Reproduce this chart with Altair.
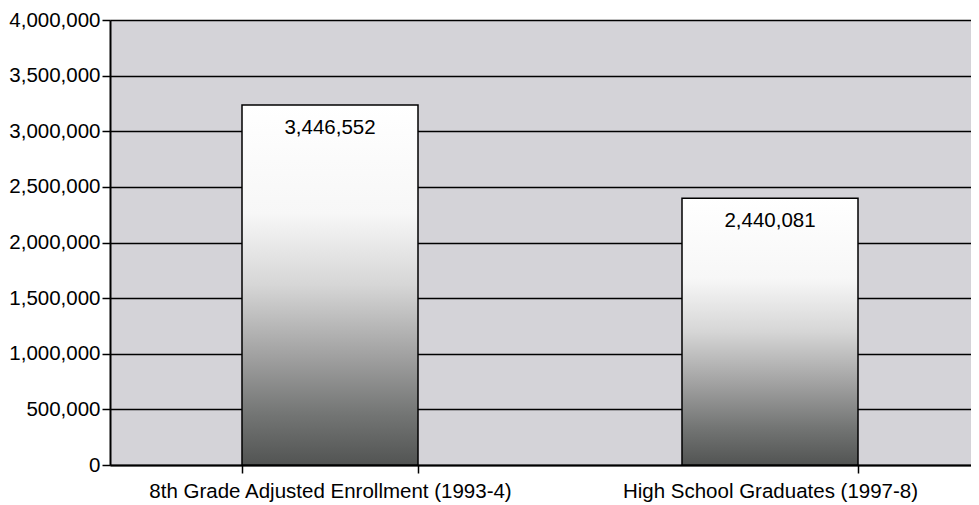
import altair as alt
import pandas as pd

categories = ["8th Grade Adjusted Enrollment (1993-4)", "High School Graduates (1997-8)"]
bar_heights = [3235000, 2397000]
value_labels = ["3,446,552", "2,440,081"]
y_ticks = [0, 500000, 1000000, 1500000, 2000000, 2500000, 3000000, 3500000, 4000000]

df = pd.DataFrame({"category": categories, "value": bar_heights, "label": value_labels})

FONT = "Liberation Sans"

x_enc = alt.X(
    "category:N",
    sort=categories,
    title=None,
    scale=alt.Scale(range=[0, 880], paddingInner=0.6, paddingOuter=0.3),
    axis=alt.Axis(
        labelAngle=0,
        labelFontSize=20.5,
        labelFont=FONT,
        labelColor="black",
        labelPadding=8,
        tickSize=8,
        tickColor="black",
        tickWidth=1.5,
        tickBand="extent",
        domainColor="black",
        domainWidth=2,
        grid=False,
        labelLimit=600,
    ),
)

y_enc = alt.Y(
    "value:Q",
    title=None,
    scale=alt.Scale(domain=[0, 4000000], nice=False),
    axis=alt.Axis(
        values=y_ticks,
        format=",d",
        labelFontSize=20.5,
        labelFont=FONT,
        labelColor="black",
        labelPadding=2,
        tickSize=8,
        tickColor="black",
        tickWidth=1.5,
        domainColor="black",
        domainWidth=2,
        grid=True,
        gridColor="black",
        gridWidth=1.5,
        gridOpacity=1,
    ),
)

gradient = alt.Gradient(
    gradient="linear",
    x1=0, x2=0, y1=0, y2=1,
    stops=[
        alt.GradientStop(offset=0, color="#ffffff"),
        alt.GradientStop(offset=0.3, color="#f7f7f7"),
        alt.GradientStop(offset=0.5, color="#d6d6d6"),
        alt.GradientStop(offset=0.7, color="#a0a0a0"),
        alt.GradientStop(offset=0.86, color="#737574"),
        alt.GradientStop(offset=1, color="#525453"),
    ],
)

bars = alt.Chart(df).mark_bar(
    fill=gradient, stroke="black", strokeWidth=1.5
).encode(x=x_enc, y=y_enc)

texts = alt.Chart(df).mark_text(
    font=FONT, fontSize=20.5, color="black", baseline="middle", dy=23
).encode(x=alt.X("category:N", sort=categories), y="value:Q", text="label:N")

chart = (
    alt.layer(bars, texts)
    .properties(
        width=861,
        height=445,
        autosize=alt.AutoSizeParams(type="none"),
        padding={"left": 102, "top": 12, "right": 0, "bottom": 40},
        background="white",
    )
    .configure_view(fill="#d4d3d8", strokeWidth=0)
)

chart.save("out.html", embed_options={"renderer": "svg", "actions": False})
